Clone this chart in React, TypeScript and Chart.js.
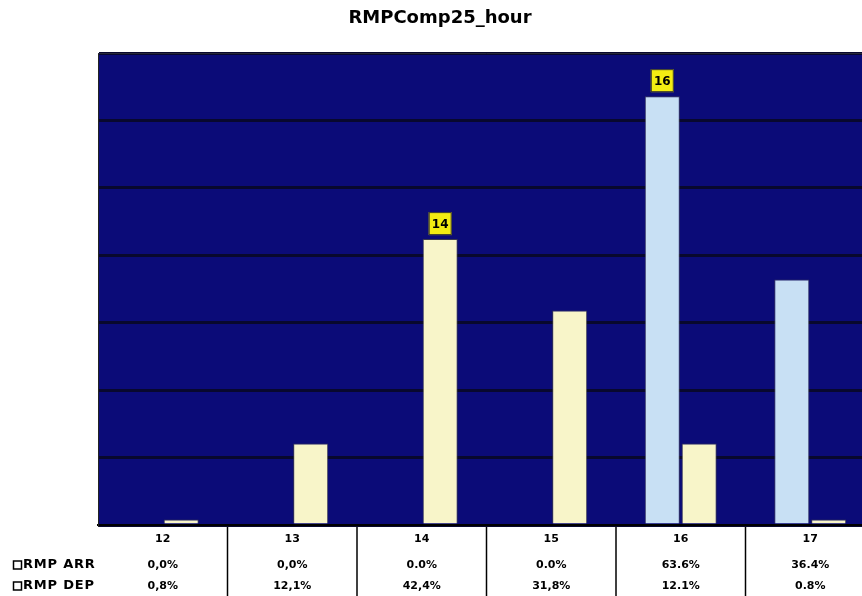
import React, { useEffect, useRef } from "react";
import { Chart, registerables } from "chart.js";

Chart.register(...registerables);

const TITLE = "RMPComp25_hour";
const HOURS = ["12", "13", "14", "15", "16", "17"];
const SERIES_NAMES = ["RMP ARR", "RMP DEP"];
const ARR_VALUES = [0.0, 0.0, 0.0, 0.0, 63.6, 36.4];
const DEP_VALUES = [0.8, 12.1, 42.4, 31.8, 12.1, 0.8];
const ARR_TEXT = ["0,0%", "0,0%", "0.0%", "0.0%", "63.6%", "36.4%"];
const DEP_TEXT = ["0,8%", "12,1%", "42,4%", "31,8%", "12.1%", "0.8%"];
const ARR_BADGES = [null, null, null, null, "16", null];
const DEP_BADGES = [null, null, "14", null, null, null];
const Y_MAX = 70;
const Y_STEP = 10;

const FONT = '"DejaVu Sans", "Liberation Sans", sans-serif';

const tablePlugin = {
  id: "tablePlugin",
  beforeDraw(chart: any) {
    const { ctx, chartArea: a } = chart;
    ctx.save();
    ctx.fillStyle = "#ffffff";
    ctx.fillRect(0, 0, chart.width, chart.height);
    ctx.fillStyle = "#0b0b78";
    ctx.fillRect(a.left, a.top, a.right - a.left, a.bottom - a.top);
    ctx.restore();
  },
  afterDatasetsDraw(chart: any) {
    const { ctx, chartArea: a } = chart;
    const xs = chart.scales.x;
    ctx.save();
    // top border of plot
    ctx.strokeStyle = "#2a2a3a";
    ctx.lineWidth = 1;
    ctx.beginPath();
    ctx.moveTo(a.left, a.top + 0.5);
    ctx.lineTo(a.right, a.top + 0.5);
    ctx.stroke();

    // badges
    const badgeSets = [ARR_BADGES, DEP_BADGES];
    badgeSets.forEach((badges, di) => {
      const meta = chart.getDatasetMeta(di);
      badges.forEach((b, i) => {
        if (!b) return;
        const el = meta.data[i];
        const w = 23, h = 23;
        const bx = el.x - w / 2;
        const by = el.y - 4 - h;
        ctx.fillStyle = "#f3ec12";
        ctx.fillRect(bx, by, w, h);
        ctx.strokeStyle = "#333";
        ctx.lineWidth = 1;
        ctx.strokeRect(bx + 0.5, by + 0.5, w - 1, h - 1);
        ctx.fillStyle = "#000";
        ctx.font = `bold 12px ${FONT}`;
        ctx.textAlign = "center";
        ctx.textBaseline = "middle";
        ctx.fillText(b, el.x, by + h / 2 + 1);
      });
    });

    // title
    ctx.fillStyle = "#000";
    ctx.font = `bold 18px ${FONT}`;
    ctx.textAlign = "center";
    ctx.textBaseline = "middle";
    ctx.fillText(TITLE, 440, 18);

    // table separators
    ctx.strokeStyle = "#000";
    ctx.lineWidth = 1.5;
    for (let i = 0; i < HOURS.length - 1; i++) {
      const xm = (xs.getPixelForValue(i) + xs.getPixelForValue(i + 1)) / 2;
      ctx.beginPath();
      ctx.moveTo(xm, a.bottom + 2);
      ctx.lineTo(xm, chart.height);
      ctx.stroke();
    }

    // table text
    ctx.font = `bold 11px ${FONT}`;
    ctx.textAlign = "center";
    ctx.textBaseline = "middle";
    HOURS.forEach((h, i) => {
      const x = xs.getPixelForValue(i);
      ctx.fillText(h, x, 539);
      ctx.fillText(ARR_TEXT[i], x, 565);
      ctx.fillText(DEP_TEXT[i], x, 586);
    });

    // legend labels
    const rowsY = [565, 586];
    SERIES_NAMES.forEach((name, i) => {
      const y = rowsY[i];
      ctx.fillStyle = "#fff";
      ctx.fillRect(13, y - 4, 8, 8);
      ctx.strokeStyle = "#000";
      ctx.lineWidth = 1.5;
      ctx.strokeRect(13.5, y - 4, 8, 8);
      ctx.fillStyle = "#000";
      ctx.font = `bold 13px ${FONT}`;
      (ctx as any).letterSpacing = "0.8px";
      ctx.textAlign = "left";
      ctx.fillText(name, 23, y);
      (ctx as any).letterSpacing = "0px";
    });
    ctx.restore();
  },
};

export default function App() {
  const ref = useRef<HTMLCanvasElement | null>(null);
  useEffect(() => {
    if (!ref.current) return;
    const chart = new Chart(ref.current, {
      type: "bar",
      data: {
        labels: HOURS,
        datasets: [
          {
            label: SERIES_NAMES[0],
            data: ARR_VALUES,
            backgroundColor: "#c8e0f4",
            borderColor: "rgba(70,70,90,0.8)",
            borderWidth: 1,
          },
          {
            label: SERIES_NAMES[1],
            data: DEP_VALUES,
            backgroundColor: "#f8f5c9",
            borderColor: "rgba(70,70,70,0.8)",
            borderWidth: 1,
          },
        ],
      },
      options: {
        responsive: false,
        animation: false,
        devicePixelRatio: 1,
        layout: { padding: { left: 98, top: 53, right: 5, bottom: 71 } },
        datasets: { bar: { categoryPercentage: 0.57, barPercentage: 0.95 } } as any,
        plugins: {
          legend: { display: false },
          title: { display: false },
          tooltip: { enabled: false },
        },
        scales: {
          x: {
            grid: { display: false, drawTicks: false },
            ticks: { display: false },
            border: { display: true, color: "#000", width: 2 },
          },
          y: {
            min: 0,
            max: Y_MAX,
            ticks: { display: false, stepSize: Y_STEP },
            grid: { color: "#08082e", lineWidth: 3, drawTicks: false },
            border: { display: true, color: "#222", width: 1 },
          },
        },
      },
      plugins: [tablePlugin],
    });
    return () => chart.destroy();
  }, []);
  return (
    <div
      style={{
        position: "fixed",
        left: 0,
        top: 0,
        width: 862,
        height: 596,
        overflow: "hidden",
        background: "#fff",
      }}
    >
      <canvas ref={ref} width={880} height={596} style={{ display: "block" }} />
    </div>
  );
}
